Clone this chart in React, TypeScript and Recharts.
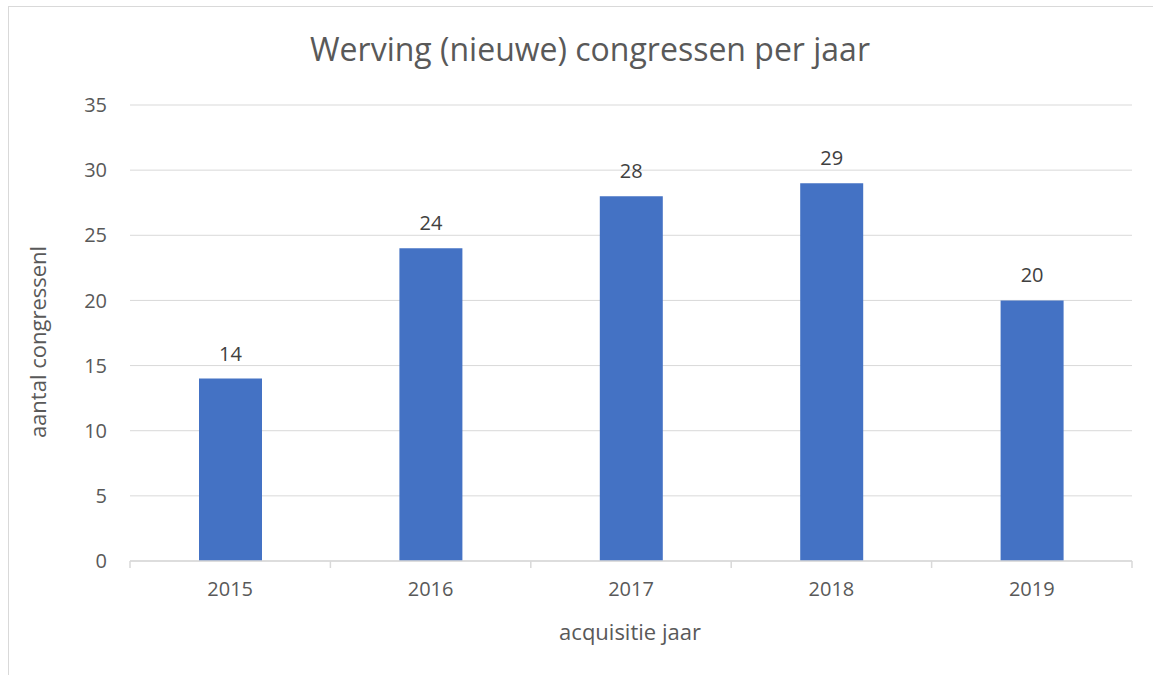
import { Bar, BarChart, CartesianGrid, LabelList, XAxis, YAxis } from "recharts";

const years = ["2015", "2016", "2017", "2018", "2019"];
const congressCounts = [14, 24, 28, 29, 20];
const yTicks = [0, 5, 10, 15, 20, 25, 30, 35];

const chartData = years.map((year, i) => ({ year, count: congressCounts[i] }));

const FONT = "'Open Sans', 'Noto Sans', sans-serif";
const GREY = "#595959";
const LINE = "#d9d9d9";

// year label plus a divider tick at the left edge of each band (and the right edge of the last one)
const YearTick = (props: any) => {
  const { x, y, payload, index, visibleTicksCount } = props;
  const half = payload.offset ?? 0;
  const last = index === (visibleTicksCount ?? years.length) - 1;
  return (
    <g>
      <line x1={x - half} x2={x - half} y1={y} y2={y + 7} stroke={LINE} strokeWidth={1.5} />
      {last && <line x1={x + half} x2={x + half} y1={y} y2={y + 7} stroke={LINE} strokeWidth={1.5} />}
      <text x={x} y={y + 21} dy="0.71em" textAnchor="middle" fill={GREY} fontSize={20} fontFamily={FONT}>
        {payload.value}
      </text>
    </g>
  );
};

export default function App() {
  return (
    <div style={{ position: "fixed", left: 0, top: 0, width: 1153, height: 675, background: "#fff", fontFamily: FONT, overflow: "hidden" }}>
      <div style={{ position: "absolute", left: 8, top: 6, width: 1160, height: 700, border: `1px solid ${LINE}` }} />
      <div style={{ position: "absolute", left: 590, top: 29, transform: "translateX(-50%)", fontSize: 32, color: GREY, whiteSpace: "nowrap", lineHeight: "40px" }}>
        Werving (nieuwe) congressen per jaar
      </div>
      <div style={{ position: "absolute", left: 37, top: 342, transform: "translate(-50%, -50%) rotate(-90deg)", fontSize: 22, color: GREY, whiteSpace: "nowrap" }}>
        aantal congressenl
      </div>
      <div style={{ position: "absolute", left: 630, top: 631, transform: "translate(-50%, -50%)", fontSize: 22, color: GREY, whiteSpace: "nowrap" }}>
        acquisitie jaar
      </div>
      <div style={{ position: "absolute", left: 0, top: 0 }}>
        <BarChart width={1153} height={675} data={chartData} margin={{ top: 105, right: 21, bottom: 74, left: 70 }}>
          <CartesianGrid horizontal vertical={false} stroke={LINE} strokeWidth={1} />
          <XAxis
            dataKey="year"
            height={40}
            axisLine={{ stroke: LINE, strokeWidth: 1.5 }}
            tickLine={false}
            tickSize={0}
            tickMargin={0}
            interval={0}
            tick={<YearTick />}
          />
          <YAxis
            domain={[0, 35]}
            ticks={yTicks}
            width={60}
            axisLine={false}
            tickLine={false}
            tickMargin={17}
            tick={{ fill: GREY, fontSize: 20, fontFamily: FONT }}
          />
          <Bar dataKey="count" fill="#4472C4" barSize={63} isAnimationActive={false}>
            <LabelList dataKey="count" position="top" offset={18} fill="#404040" fontSize={20} fontFamily={FONT} />
          </Bar>
        </BarChart>
      </div>
    </div>
  );
}
